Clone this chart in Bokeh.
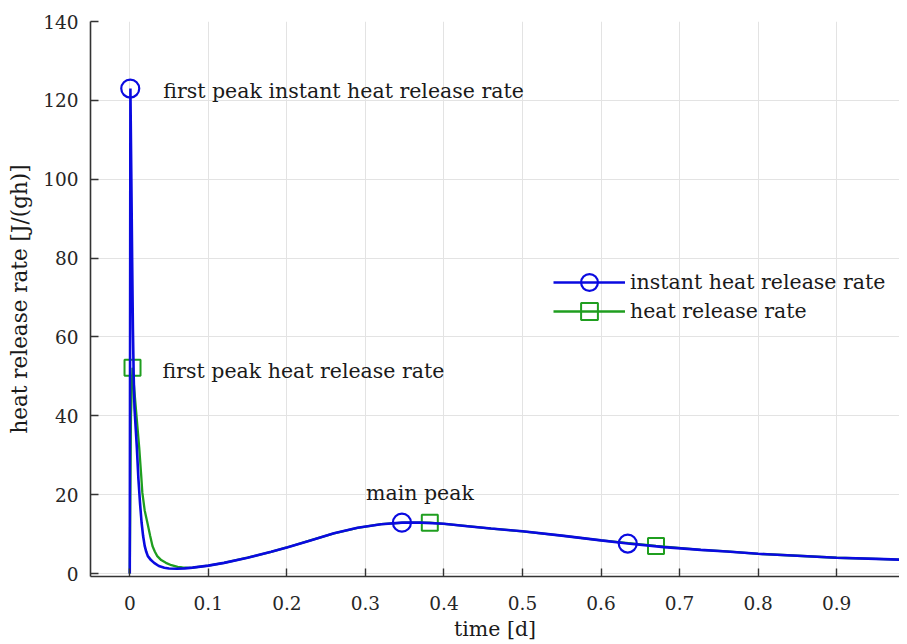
from bokeh.plotting import figure
from bokeh.models import FixedTicker, Range1d, Legend
from bokeh.core.properties import value
from bokeh.embed import file_html
from bokeh.resources import INLINE

# ---- data ----
time_instant = [0, 0.0004, 0.0008, 0.002, 0.003, 0.004, 0.005, 0.006, 0.0075, 0.009,
                0.011, 0.013, 0.015, 0.017, 0.019, 0.021, 0.023, 0.027, 0.031, 0.037,
                0.044, 0.050, 0.060, 0.070, 0.080, 0.100, 0.120, 0.150, 0.180, 0.200,
                0.230, 0.260, 0.290, 0.320, 0.3465, 0.370, 0.400, 0.430, 0.460, 0.500,
                0.550, 0.600, 0.634, 0.680, 0.727, 0.760, 0.800, 0.850, 0.900, 0.950,
                0.990]
rate_instant = [0, 60, 123, 100, 80, 62, 50, 42, 37, 32,
                24, 18, 13, 9.5, 7.0, 5.5, 4.4, 3.4, 2.7, 1.9,
                1.45, 1.25, 1.2, 1.3, 1.5, 2.0, 2.7, 4.0, 5.5, 6.6,
                8.4, 10.2, 11.6, 12.5, 12.9, 12.9, 12.6, 12.0, 11.4, 10.7,
                9.6, 8.4, 7.6, 6.7, 6.0, 5.6, 5.0, 4.5, 4.0, 3.7,
                3.45]

time_avg = [0, 0.0015, 0.0035, 0.006, 0.009, 0.012, 0.0145, 0.016, 0.019, 0.0225,
            0.026, 0.029, 0.032, 0.035, 0.040, 0.046, 0.053, 0.061, 0.067, 0.075,
            0.080, 0.100, 0.120, 0.150, 0.180, 0.200, 0.230, 0.260, 0.290, 0.320,
            0.350, 0.382, 0.400, 0.430, 0.460, 0.500, 0.550, 0.600, 0.670, 0.727,
            0.760, 0.800, 0.850, 0.900, 0.950, 0.990]
rate_avg = [0, 40, 52.2, 46, 39, 32, 25, 20.5, 16, 12.8,
            9.5, 6.9, 5.5, 4.4, 3.4, 2.7, 2.1, 1.7, 1.55, 1.45,
            1.5, 2.0, 2.7, 4.0, 5.5, 6.6, 8.4, 10.2, 11.6, 12.5,
            12.9, 12.9, 12.6, 12.0, 11.4, 10.7, 9.6, 8.4, 7.0, 6.0,
            5.6, 5.0, 4.5, 4.0, 3.7, 3.45]

peaks_instant_t = [0.0006, 0.3465, 0.634]
peaks_instant_v = [123, 12.9, 7.6]
peaks_avg_t = [0.0035, 0.382, 0.670]
peaks_avg_v = [52.2, 12.9, 7.0]

x_ticks = [0, 0.1, 0.2, 0.3, 0.4, 0.5, 0.6, 0.7, 0.8, 0.9]
y_ticks = [0, 20, 40, 60, 80, 100, 120, 140]

series_names = ["instant heat release rate", "heat release rate"]
annotation_texts = ["first peak instant heat release rate",
                    "first peak heat release rate", "main peak"]

BLUE = "#0a0ae0"
GREEN = "#1f9e1f"
FONT = "DejaVu Serif"
AXC = "#333333"
TXT = "#1a1a1a"

p = figure(width=899, height=644, output_backend="svg", toolbar_location=None,
           x_range=Range1d(-0.05, 0.98), y_range=Range1d(-0.76, 140),
           min_border_left=90, min_border_top=21, min_border_right=0,
           min_border_bottom=68)
p.outline_line_color = None
p.background_fill_color = "white"

# green (heat release rate) first, blue on top
l_avg = p.line(time_avg, rate_avg, line_color=GREEN, line_width=2.3)
s_avg = p.scatter(peaks_avg_t, peaks_avg_v, marker="square", size=16,
                  fill_color=None, line_color=GREEN, line_width=2)
l_ins = p.line(time_instant, rate_instant, line_color=BLUE, line_width=2.6)
s_ins = p.scatter(peaks_instant_t, peaks_instant_v, marker="circle", size=18,
                  fill_color=None, line_color=BLUE, line_width=2.2)

# annotations
p.text(x=[peaks_instant_t[0]], y=[peaks_instant_v[0]], text=[annotation_texts[0]],
       x_offset=33, y_offset=2, text_baseline="middle", text_align="left",
       text_font=value(FONT), text_font_size="20.5px", text_color=TXT)
p.text(x=[peaks_avg_t[0]], y=[peaks_avg_v[0]], text=[annotation_texts[1]],
       x_offset=30, y_offset=3, text_baseline="middle", text_align="left",
       text_font=value(FONT), text_font_size="20.5px", text_color=TXT)
p.text(x=[peaks_instant_t[1]], y=[peaks_instant_v[1]], text=[annotation_texts[2]],
       x_offset=18, y_offset=-30, text_baseline="middle", text_align="center",
       text_font=value(FONT), text_font_size="20.5px", text_color=TXT)


def make_legend(label, renderers, loc):
    lg = Legend(items=[(label, renderers)], location=loc)
    lg.glyph_width = 72
    lg.glyph_height = 42
    lg.label_height = 24
    lg.spacing = 0
    lg.padding = 0
    lg.margin = 0
    lg.label_standoff = 5
    lg.border_line_color = None
    lg.background_fill_alpha = 0
    lg.label_text_font = FONT
    lg.label_text_font_size = "20.5px"
    lg.label_text_color = TXT
    return lg


p.add_layout(make_legend(series_names[0], [l_ins, s_ins], (463, 273)), "center")
p.add_layout(make_legend(series_names[1], [l_avg, s_avg], (463, 244)), "center")

# axes
for ax in (p.xaxis[0], p.yaxis[0]):
    ax.axis_line_color = AXC
    ax.axis_line_width = 1.6
    ax.major_tick_line_color = AXC
    ax.major_tick_line_width = 1.4
    ax.major_tick_in = 8
    ax.major_tick_out = 0
    ax.minor_tick_line_color = None
    ax.major_label_text_font = FONT
    ax.major_label_text_font_size = "18.5px"
    ax.major_label_text_color = "#262626"
    ax.axis_label_text_font = FONT
    ax.axis_label_text_font_size = "20.5px"
    ax.axis_label_text_font_style = "normal"
    ax.axis_label_text_color = TXT

p.yaxis[0].axis_label_text_font_size = "21.5px"
p.xaxis[0].ticker = FixedTicker(ticks=x_ticks)
p.yaxis[0].ticker = FixedTicker(ticks=y_ticks)
p.xaxis[0].axis_label = "time [d]"
p.yaxis[0].axis_label = "heat release rate [J/(gh)]"
p.xaxis[0].major_label_standoff = 19
p.xaxis[0].axis_label_standoff = 4
p.yaxis[0].major_label_standoff = 12
p.yaxis[0].axis_label_standoff = 8

p.xgrid.grid_line_color = "#e3e3e3"
p.ygrid.grid_line_color = "#e3e3e3"
p.xgrid.grid_line_width = 1
p.ygrid.grid_line_width = 1
p.xgrid.ticker = FixedTicker(ticks=x_ticks)
p.ygrid.ticker = FixedTicker(ticks=y_ticks)

open("out.html", "w").write(file_html(p, INLINE))
